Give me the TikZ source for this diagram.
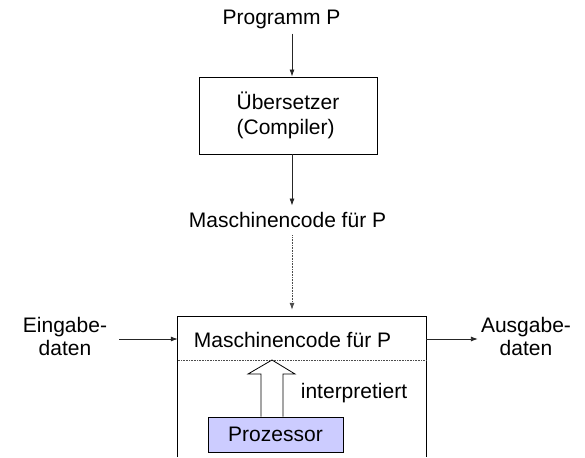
\documentclass[tikz,border=0pt]{standalone}
\usepackage{fontspec}
\setmainfont{Liberation Sans}
\usetikzlibrary{arrows.meta}
\definecolor{lav}{RGB}{204,204,255}
\begin{document}
\begin{tikzpicture}[x=1pt,y=-1pt,
  lbl/.style={font=\fontsize{21}{24}\selectfont, inner sep=0pt},
  arr/.style={draw=black!85, line width=0.8pt, -{Latex[length=7pt,width=5pt]}},
  boxline/.style={draw=black, line width=0.9pt},
  dotline/.style={draw=black!70, line width=0.8pt, dash pattern=on 0.8pt off 0.8pt}]
\useasboundingbox (0,0) rectangle (585,457);
\coordinate (ax) at (292,0);
\coordinate (ay) at (0,339);
\coordinate (div) at (300,360);
% nodes
\node[lbl, anchor=base] (p) at (281.5,25) {Programm P};
\node[boxline, draw, font=\fontsize{21}{25}\selectfont, align=left, inner sep=0pt,
      minimum width=178pt, minimum height=77pt] (c) at (288,115.5) {Übersetzer\\(Compiler)};
\node[lbl, anchor=base] (m) at (287.5,227) {Maschinencode für P};
\node[minimum width=248pt, minimum height=140pt, inner sep=0pt] (bigbox) at (302,387) {};
\node[lbl, anchor=base] (m2) at (292.5,347) {Maschinencode für P};
\node[lbl, align=center, font=\fontsize{21}{23}\selectfont] (ein) at (65,336) {Eingabe-\\daten};
\node[lbl, align=center, font=\fontsize{21}{23}\selectfont] (aus) at (526,336) {Ausgabe-\\daten};
\node[boxline, draw, fill=lav, minimum width=135pt, minimum height=35pt, inner sep=0pt,
      font=\fontsize{21}{24}\selectfont] (proz) at (275.5,434.5) {Prozessor};
\node[lbl, anchor=base] (int) at (354,398) {interpretiert};
% big box (open at bottom)
\draw[boxline] (bigbox.south west) |- (bigbox.north east) -- (bigbox.south east);
\draw[dotline] (div -| bigbox.west) -- (div -| bigbox.east);
% connectors
\draw[arr, shorten <=4pt] (p.south -| ax) -- (c.north -| ax);
\draw[arr, shorten >=6pt] (c.south -| ax) -- (m.north -| ax);
\draw[dotline, -{Latex[length=7pt,width=5pt]}, shorten <=8pt, shorten >=7pt] (m.south -| ax) -- (bigbox.north -| ax);
\draw[arr, shorten <=12pt] (ein.east |- ay) -- (bigbox.west |- ay);
\draw[arr, shorten >=3pt] (bigbox.east |- ay) -- (aus.west |- ay);
% hollow arrow
\draw[boxline, fill=white, line width=0.8pt]
  (proz.north -| 261,0) -- (261,374) -- (248,374) -- (div -| 272,0) -- (295,374) -- (283,374) -- (proz.north -| 283,0);
\end{tikzpicture}
\end{document}
